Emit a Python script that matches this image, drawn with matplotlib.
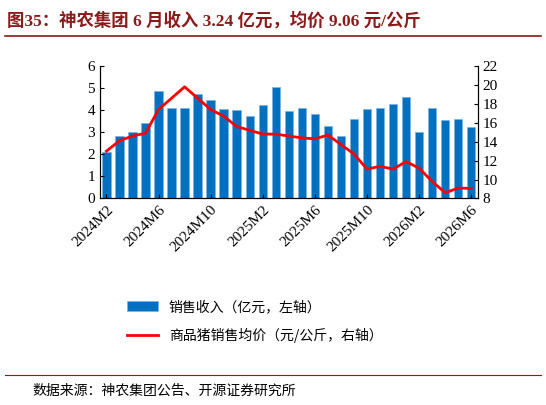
import matplotlib
matplotlib.use("Agg")
import matplotlib.pyplot as plt
from matplotlib.lines import Line2D

plt.rcParams['font.family'] = ['Noto Sans CJK SC', 'DejaVu Sans']

months = [f"{y}M{m}" for y, m in
          [(2024, m) for m in range(2, 13)] + [(2025, m) for m in range(1, 13)] + [(2026, m) for m in range(1, 7)]]
revenue = [2.09, 2.82, 3.0, 3.42, 4.85, 4.08, 4.12, 4.73, 4.45, 4.05, 4.02, 3.74, 4.23, 5.06, 3.95,
           4.12, 3.83, 3.26, 2.82, 3.62, 4.05, 4.12, 4.27, 4.59, 3.0, 4.08, 3.55, 3.62, 3.24]
price = [13.0, 14.1, 14.6, 14.9, 17.4, 18.6, 19.8, 18.6, 17.4, 16.7, 15.6, 15.2, 14.8, 14.8, 14.6,
         14.4, 14.3, 14.7, 13.7, 12.7, 11.1, 11.4, 11.1, 11.9, 11.2, 9.8, 8.6, 9.1, 9.06]

fig = plt.figure(figsize=(5.46, 4.05), dpi=100)
fig.text(0.012, 0.97, "图35：神农集团 6 月收入 3.24 亿元，均价 9.06 元/公斤", fontsize=12.5,
         fontweight='bold', color='#8B1A1A', va='top', family=['Liberation Serif', 'Noto Sans CJK SC'])
fig.add_artist(Line2D([0.01, 0.99], [0.91, 0.91], color='#8B1A1A', lw=1.2))
fig.add_artist(Line2D([0.01, 0.99], [0.075, 0.075], color='#8B1A1A', lw=0.8))
fig.text(0.06, 0.035, "数据来源：神农集团公告、开源证券研究所", fontsize=10, va='center')

ax = fig.add_axes([0.183, 0.51, 0.692, 0.327])
x = list(range(len(months)))
b = ax.bar(x, revenue, width=0.65, color='#0070C0', edgecolor='#7FB2DF', linewidth=0.5)
ax.set_ylim(0, 6)
ax.set_xlim(-0.5, len(months) - 0.5)
ax.set_yticks(range(7))
ax.set_xticks(x[::4])
ax.set_xticklabels(months[::4], rotation=45, ha='right', rotation_mode='anchor',
                   family=['Liberation Serif'], fontsize=11)
ax2 = ax.twinx()
l, = ax2.plot(x, price, color='#FF0000', lw=2)
ax2.set_ylim(8, 22)
ax2.set_yticks(range(8, 23, 2))
for a in (ax, ax2):
    a.tick_params(labelsize=11, direction='in', length=3)
    for lab in a.get_yticklabels():
        lab.set_family('Liberation Serif')
    a.spines['top'].set_visible(False)

fig.legend([b, l], ["销售收入（亿元，左轴）", "商品猪销售均价（元/公斤，右轴）"],
           loc='upper left', bbox_to_anchor=(0.21, 0.29), frameon=False, fontsize=10,
           handlelength=2.2, labelspacing=1.0)
fig.savefig("out.png", dpi=100)
